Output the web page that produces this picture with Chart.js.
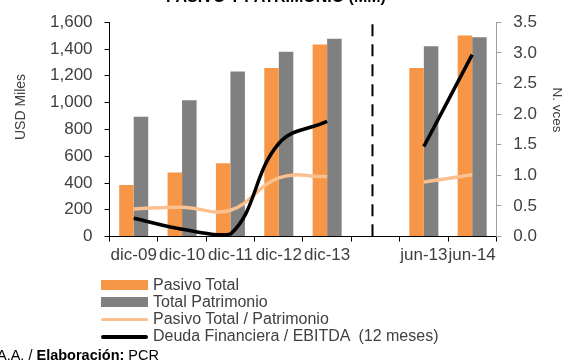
<!DOCTYPE html>
<html>
<head>
<meta charset="utf-8">
<script src="https://cdn.jsdelivr.net/npm/chart.js@4.4.1/dist/chart.umd.min.js"></script>
<style>
  html, body { margin: 0; padding: 0; background: #fff; }
  #wrap { position: relative; width: 563px; height: 362px; overflow: hidden; font-family: "Liberation Sans", Arial, sans-serif; }
  #c { position: absolute; left: 0; top: 0; }
  #title { position: absolute; left: 0; width: 552px; top: -11px; line-height: 16px; text-align: center; font-weight: bold; font-size: 16px; color: #000; }
  #legend { position: absolute; left: 101px; top: 276px; font-size: 16px; color: #404040; }
  .row { display: flex; align-items: center; height: 17px; }
  .sym { width: 47px; height: 17px; position: relative; margin-right: 5px; }
  .sym span { position: absolute; left: 0; width: 47px; }
  #source { position: absolute; left: -3px; top: 347px; font-size: 14.5px; color: #000; white-space: nowrap; }
</style>
</head>
<body>
<div id="wrap">
  <canvas id="c" width="563" height="362"></canvas>
  <div id="title">PASIVO Y PATRIMONIO (MM)</div>
  <div id="legend"></div>
  <div id="source">A.A. / <b>Elaboración:</b> PCR</div>
</div>
<script>
// Periods (an empty slot separates the annual and the June figures)
const categories = ['dic-09', 'dic-10', 'dic-11', 'dic-12', 'dic-13', '', 'jun-13', 'jun-14'];
// USD miles
const pasivoTotal     = [385, 478, 547, 1259, 1434, null, 1259, 1500];
const totalPatrimonio = [895, 1018, 1232, 1380, 1476, null, 1421, 1488];
// times (right axis)
const pasivoPatrimonio = [0.45, 0.48, 0.43, 0.96, 0.98, null, 0.89, 1.01];
const deudaEbitda      = [0.30, 0.12, 0.04, 1.52, 1.88, null, 1.47, 2.97];
// axis ranges
const leftTicks  = { min: 0, max: 1600, step: 200 };
const rightTicks = { min: 0, max: 3.5, step: 0.5 };

const FONT = '"Liberation Sans", Arial, sans-serif';
const TXT = '#404040';

// Vertical dashed separator in the empty slot, plus rotated axis titles
const extras = {
  id: 'extras',
  afterDatasetsDraw(chart) {
    const { ctx, chartArea } = chart;
    const x = chart.scales.x.getPixelForValue(5) - 3;
    ctx.save();
    ctx.strokeStyle = '#000';
    ctx.lineWidth = 2;
    ctx.setLineDash([12, 8]);
    ctx.lineDashOffset = -2;
    ctx.beginPath();
    ctx.moveTo(x, chartArea.top);
    ctx.lineTo(x, chartArea.bottom);
    ctx.stroke();
    ctx.restore();
  },
  afterDraw(chart) {
    const { ctx } = chart;
    ctx.save();
    ctx.fillStyle = TXT;
    ctx.font = '14px ' + FONT;
    ctx.textAlign = 'center';
    ctx.textBaseline = 'middle';
    ctx.translate(21, 107);
    ctx.rotate(-Math.PI / 2);
    ctx.fillText('USD Miles', 0, 0);
    ctx.restore();
    ctx.save();
    ctx.fillStyle = TXT;
    ctx.font = '13.5px ' + FONT;
    ctx.textAlign = 'center';
    ctx.textBaseline = 'middle';
    ctx.translate(557, 110);
    ctx.rotate(Math.PI / 2);
    ctx.fillText('N. vces', 0, 0);
    ctx.restore();
  }
};

const chart = new Chart(document.getElementById('c'), {
  type: 'bar',
  data: {
    labels: categories,
    datasets: [
      { label: 'Pasivo Total', data: pasivoTotal, backgroundColor: '#F79646', yAxisID: 'y', order: 2,
        categoryPercentage: 0.6, barPercentage: 1.0 },
      { label: 'Total Patrimonio', data: totalPatrimonio, backgroundColor: '#808080', yAxisID: 'y', order: 2,
        categoryPercentage: 0.6, barPercentage: 1.0 },
      { type: 'line', label: 'Pasivo Total / Patrimonio', data: pasivoPatrimonio, yAxisID: 'y1', order: 1,
        borderColor: '#FAC090', borderWidth: 3.5, pointRadius: 0, tension: 0.4, spanGaps: false, clip: false },
      { type: 'line', label: 'Deuda Financiera / EBITDA  (12 meses)', data: deudaEbitda, yAxisID: 'y1', order: 0,
        borderColor: '#000000', borderWidth: 3.5, pointRadius: 0, tension: 0.4, spanGaps: false, clip: false }
    ]
  },
  options: {
    responsive: false,
    animation: false,
    layout: { padding: { left: 38, right: 14, top: 8, bottom: 92 } },
    plugins: { legend: { display: false }, tooltip: { enabled: false }, title: { display: false } },
    scales: {
      x: {
        grid: { display: true, drawOnChartArea: false, drawTicks: true, tickLength: 5, color: '#000', offset: true },
        border: { display: true, color: '#000', width: 1 },
        ticks: { color: TXT, font: { family: FONT, size: 17 }, padding: 4, maxRotation: 0, autoSkip: false }
      },
      y: {
        position: 'left',
        min: leftTicks.min, max: leftTicks.max,
        grid: { display: true, drawOnChartArea: false, drawTicks: true, tickLength: 5, color: '#000' },
        border: { display: true, color: '#000', width: 1 },
        ticks: { stepSize: leftTicks.step, color: TXT, font: { family: FONT, size: 17 }, padding: 12,
                 callback: v => v.toLocaleString('en-US') }
      },
      y1: {
        position: 'right',
        min: rightTicks.min, max: rightTicks.max,
        grid: { display: true, drawOnChartArea: false, drawTicks: true, tickLength: 5, color: '#A0A0A0' },
        border: { display: true, color: '#A0A0A0', width: 1 },
        ticks: { stepSize: rightTicks.step, color: TXT, font: { family: FONT, size: 17 }, padding: 12,
                 callback: v => v.toFixed(1) }
      }
    }
  },
  plugins: [extras]
});

// Legend built from the chart's own datasets
const legend = document.getElementById('legend');
chart.data.datasets.forEach(ds => {
  const row = document.createElement('div');
  row.className = 'row';
  const sym = document.createElement('div');
  sym.className = 'sym';
  const mark = document.createElement('span');
  if (ds.type === 'line') {
    mark.style.height = (ds.borderColor === '#000000' ? 4 : 3) + 'px';
    mark.style.top = '8px';
    mark.style.background = ds.borderColor;
    mark.style.borderRadius = '2px';
  } else {
    mark.style.height = '10px';
    mark.style.top = '4px';
    mark.style.background = ds.backgroundColor;
  }
  sym.appendChild(mark);
  const txt = document.createElement('span');
  txt.textContent = ds.label;
  txt.style.whiteSpace = 'pre';
  row.appendChild(sym);
  row.appendChild(txt);
  legend.appendChild(row);
});
</script>
</body>
</html>
